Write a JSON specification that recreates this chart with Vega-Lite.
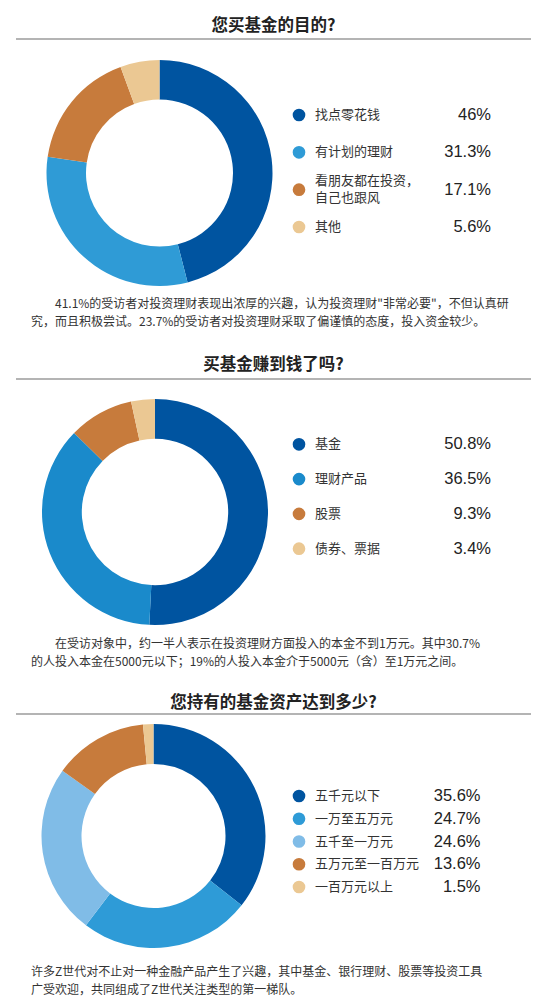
{
  "$schema": "https://vega.github.io/schema/vega-lite/v6.json",
  "background": "white",
  "padding": {"left": 15, "top": 17, "right": 0, "bottom": 0},
  "spacing": 27,
  "resolve": {"scale": {"color": "independent"}},
  "config": {
    "view": {"stroke": null},
    "font": "Noto Sans CJK SC",
    "text": {"font": "Noto Sans CJK SC"}
  },
  "vconcat": [
    {
      "title": {"text": "您买基金的目的?", "fontSize": 16.5, "fontWeight": "bold", "font": "Noto Sans CJK SC", "color": "#222", "anchor": "middle", "offset": 4.2},
      "spacing": 10,
      "vconcat": [
        {
          "width": 515, "height": 1,
          "data": {"values": [{}]},
          "mark": {"type": "rule", "color": "#6b6b6b", "strokeWidth": 1.2},
          "encoding": {"y": {"value": 0}}
        },
        {
          "title": {
            "text": ["\u200b\u3000\u300041.1%的受访者对投资理财表现出浓厚的兴趣，认为投资理财\"非常必要\"，不但认真研", "究，而且积极尝试。23.7%的受访者对投资理财采取了偏谨慎的态度，投入资金较少。"],
            "orient": "bottom", "anchor": "start", "align": "left", "baseline": "top",
            "dx": 15, "offset": 3.1, "lineHeight": 18,
            "fontSize": 12, "fontWeight": "normal", "font": "Noto Sans CJK SC", "color": "#333"
          },
          "data": {"values": [
            {"label": "找点零花钱", "value": 46, "pct": "46%"},
            {"label": "有计划的理财", "value": 31.3, "pct": "31.3%"},
            {"label": "看朋友都在投资，\n自己也跟风", "value": 17.1, "pct": "17.1%"},
            {"label": "其他", "value": 5.6, "pct": "5.6%"}
          ]},
          "bounds": "flush",
          "spacing": 0,
          "hconcat": [
            {
              "width": 287, "height": 246,
              "mark": {"type": "arc", "radius": 113, "innerRadius": 73.5},
              "encoding": {
                "theta": {"field": "value", "type": "quantitative", "stack": true},
                "order": {"field": "value", "sort": "descending"},
                "color": {"field": "label", "type": "nominal", "legend": null,
                  "scale": {"domain": ["找点零花钱", "有计划的理财", "看朋友都在投资，\n自己也跟风", "其他"], "range": ["#0054a0", "#2f9bd6", "#c77b3c", "#ebc893"]}}
              }
            },
            {
              "width": 228, "height": 246,
              "encoding": {
                "y": {"field": "label", "type": "nominal", "sort": null, "axis": null, "scale": {"type": "point", "range": [65, 177], "padding": 0}}
              },
              "layer": [
                {
                  "mark": {"type": "point", "filled": true, "shape": "circle", "size": 160, "opacity": 1},
                  "encoding": {
                    "x": {"datum": "dot", "type": "nominal", "axis": null, "scale": {"type": "point", "domain": ["dot", "value"], "range": [-4, 188], "padding": 0}},
                    "color": {"field": "label", "type": "nominal", "legend": null,
                      "scale": {"domain": ["找点零花钱", "有计划的理财", "看朋友都在投资，\n自己也跟风", "其他"], "range": ["#0054a0", "#2f9bd6", "#c77b3c", "#ebc893"]}}
                  }
                },
                {
                  "transform": [{"filter": "indexof(datum.label, '\\n') < 0"}],
                  "mark": {"type": "text", "align": "left", "baseline": "middle", "dx": 16, "fontSize": 13, "color": "#333"},
                  "encoding": {
                    "x": {"datum": "dot", "type": "nominal"},
                    "text": {"field": "label"}
                  }
                },
                {
                  "transform": [{"filter": "indexof(datum.label, '\\n') >= 0"}],
                  "mark": {"type": "text", "align": "left", "baseline": "middle", "dx": 16, "dy": -8.5, "fontSize": 13, "color": "#333", "lineBreak": "\n", "lineHeight": 17},
                  "encoding": {
                    "x": {"datum": "dot", "type": "nominal"},
                    "text": {"field": "label"}
                  }
                },
                {
                  "mark": {"type": "text", "align": "right", "baseline": "middle", "fontSize": 16.5, "font": "Liberation Sans", "color": "#222"},
                  "encoding": {
                    "x": {"datum": "value", "type": "nominal"},
                    "text": {"field": "pct"}
                  }
                }
              ]
            }
          ]
        }
      ]
    },
    {
      "title": {"text": "买基金赚到钱了吗?", "fontSize": 16.5, "fontWeight": "bold", "font": "Noto Sans CJK SC", "color": "#222", "anchor": "middle", "offset": 5.4},
      "spacing": 10,
      "vconcat": [
        {
          "width": 515, "height": 1,
          "data": {"values": [{}]},
          "mark": {"type": "rule", "color": "#6b6b6b", "strokeWidth": 1.2},
          "encoding": {"y": {"value": 0}}
        },
        {
          "title": {
            "text": ["\u200b\u3000\u3000在受访对象中，约一半人表示在投资理财方面投入的本金不到1万元。其中30.7%", "的人投入本金在5000元以下；19%的人投入本金介于5000元（含）至1万元之间。"],
            "orient": "bottom", "anchor": "start", "align": "left", "baseline": "top",
            "dx": 15, "offset": 4.8, "lineHeight": 18,
            "fontSize": 12, "fontWeight": "normal", "font": "Noto Sans CJK SC", "color": "#333"
          },
          "data": {"values": [
            {"label": "基金", "value": 50.8, "pct": "50.8%"},
            {"label": "理财产品", "value": 36.5, "pct": "36.5%"},
            {"label": "股票", "value": 9.3, "pct": "9.3%"},
            {"label": "债券、票据", "value": 3.4, "pct": "3.4%"}
          ]},
          "bounds": "flush",
          "spacing": 0,
          "hconcat": [
            {
              "width": 278, "height": 244,
              "mark": {"type": "arc", "radius": 113, "innerRadius": 73.2},
              "encoding": {
                "theta": {"field": "value", "type": "quantitative", "stack": true},
                "order": {"field": "value", "sort": "descending"},
                "color": {"field": "label", "type": "nominal", "legend": null,
                  "scale": {"domain": ["基金", "理财产品", "股票", "债券、票据"], "range": ["#0054a0", "#1a8acb", "#c77b3c", "#ebc893"]}}
              }
            },
            {
              "width": 237, "height": 244,
              "encoding": {
                "y": {"field": "label", "type": "nominal", "sort": null, "axis": null, "scale": {"type": "point", "range": [54.3, 158.7], "padding": 0}}
              },
              "layer": [
                {
                  "mark": {"type": "point", "filled": true, "shape": "circle", "size": 160, "opacity": 1},
                  "encoding": {
                    "x": {"datum": "dot", "type": "nominal", "axis": null, "scale": {"type": "point", "domain": ["dot", "value"], "range": [5, 197], "padding": 0}},
                    "color": {"field": "label", "type": "nominal", "legend": null,
                      "scale": {"domain": ["基金", "理财产品", "股票", "债券、票据"], "range": ["#0054a0", "#1a8acb", "#c77b3c", "#ebc893"]}}
                  }
                },
                {
                  "mark": {"type": "text", "align": "left", "baseline": "middle", "dx": 16, "fontSize": 13, "color": "#333"},
                  "encoding": {
                    "x": {"datum": "dot", "type": "nominal"},
                    "text": {"field": "label"}
                  }
                },
                {
                  "mark": {"type": "text", "align": "right", "baseline": "middle", "fontSize": 16.5, "font": "Liberation Sans", "color": "#222"},
                  "encoding": {
                    "x": {"datum": "value", "type": "nominal"},
                    "text": {"field": "pct"}
                  }
                }
              ]
            }
          ]
        }
      ]
    },
    {
      "title": {"text": "您持有的基金资产达到多少?", "fontSize": 16.5, "fontWeight": "bold", "font": "Noto Sans CJK SC", "color": "#222", "anchor": "middle", "offset": 1.7},
      "spacing": 8,
      "vconcat": [
        {
          "width": 515, "height": 1,
          "data": {"values": [{}]},
          "mark": {"type": "rule", "color": "#6b6b6b", "strokeWidth": 1.2},
          "encoding": {"y": {"value": 0}}
        },
        {
          "title": {
            "text": ["许多Z世代对不止对一种金融产品产生了兴趣，其中基金、银行理财、股票等投资工具", "广受欢迎，共同组成了Z世代关注类型的第一梯队。"],
            "orient": "bottom", "anchor": "start", "align": "left", "baseline": "top",
            "dx": 15, "offset": 18.1, "lineHeight": 18,
            "fontSize": 12, "fontWeight": "normal", "font": "Noto Sans CJK SC", "color": "#333"
          },
          "data": {"values": [
            {"label": "五千元以下", "value": 35.6, "pct": "35.6%"},
            {"label": "一万至五万元", "value": 24.7, "pct": "24.7%"},
            {"label": "五千至一万元", "value": 24.6, "pct": "24.6%"},
            {"label": "五万元至一百万元", "value": 13.6, "pct": "13.6%"},
            {"label": "一百万元以上", "value": 1.5, "pct": "1.5%"}
          ]},
          "bounds": "flush",
          "spacing": 0,
          "hconcat": [
            {
              "width": 275, "height": 226,
              "mark": {"type": "arc", "radius": 112, "innerRadius": 72},
              "encoding": {
                "theta": {"field": "value", "type": "quantitative", "stack": true},
                "order": {"field": "value", "sort": "descending"},
                "color": {"field": "label", "type": "nominal", "legend": null,
                  "scale": {"domain": ["五千元以下", "一万至五万元", "五千至一万元", "五万元至一百万元", "一百万元以上"], "range": ["#0054a0", "#2e9bd7", "#80bce7", "#c77b3c", "#ebc893"]}}
              }
            },
            {
              "width": 240, "height": 226,
              "encoding": {
                "y": {"field": "label", "type": "nominal", "sort": null, "axis": null, "scale": {"type": "point", "range": [73, 164], "padding": 0}}
              },
              "layer": [
                {
                  "mark": {"type": "point", "filled": true, "shape": "circle", "size": 160, "opacity": 1},
                  "encoding": {
                    "x": {"datum": "dot", "type": "nominal", "axis": null, "scale": {"type": "point", "domain": ["dot", "value"], "range": [8, 189.5], "padding": 0}},
                    "color": {"field": "label", "type": "nominal", "legend": null,
                      "scale": {"domain": ["五千元以下", "一万至五万元", "五千至一万元", "五万元至一百万元", "一百万元以上"], "range": ["#0054a0", "#2e9bd7", "#80bce7", "#c77b3c", "#ebc893"]}}
                  }
                },
                {
                  "mark": {"type": "text", "align": "left", "baseline": "middle", "dx": 16, "fontSize": 13, "color": "#333"},
                  "encoding": {
                    "x": {"datum": "dot", "type": "nominal"},
                    "text": {"field": "label"}
                  }
                },
                {
                  "mark": {"type": "text", "align": "right", "baseline": "middle", "fontSize": 16.5, "font": "Liberation Sans", "color": "#222"},
                  "encoding": {
                    "x": {"datum": "value", "type": "nominal"},
                    "text": {"field": "pct"}
                  }
                }
              ]
            }
          ]
        }
      ]
    }
  ]
}
